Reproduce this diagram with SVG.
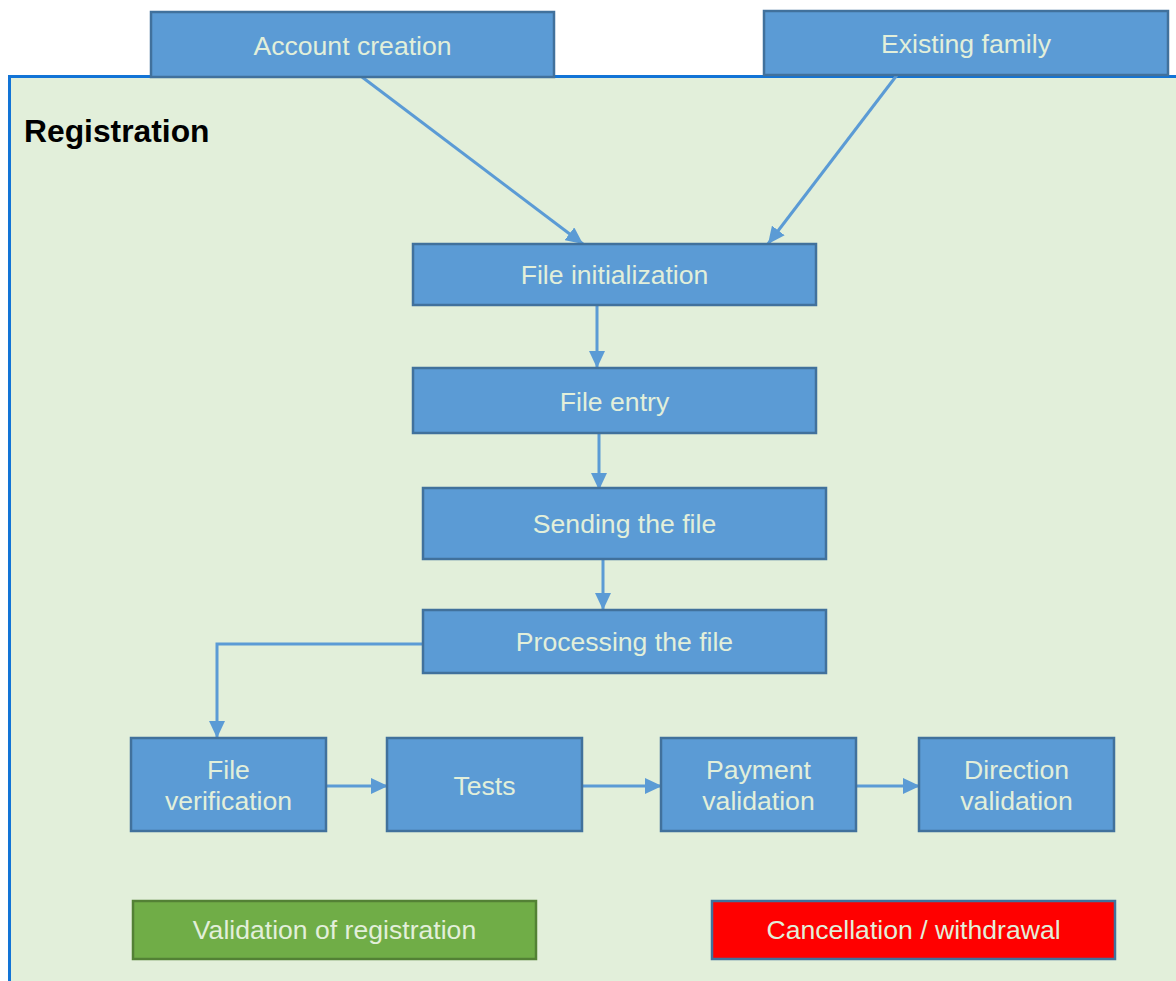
<svg xmlns="http://www.w3.org/2000/svg" width="1176" height="981" viewBox="0 0 1176 981">
<style>
.box{fill:#5B9BD5;stroke:#41719C;stroke-width:2.5}
.lbl{font-family:"Liberation Sans",Arial,sans-serif;font-size:26.6px;fill:#E2EFDA;text-anchor:middle}
.conn{fill:none;stroke:#5B9BD5;stroke-width:3}
</style>
<defs>
<marker id="ah" markerUnits="userSpaceOnUse" markerWidth="18" markerHeight="16" viewBox="0 0 18 16" refX="17" refY="8" orient="auto">
<path d="M0,0 L17,8 L0,16 Z" fill="#5B9BD5"/>
</marker>
</defs>
<rect width="1176" height="981" fill="#FFFFFF"/>
<g id="registration">
<rect x="9.5" y="76.5" width="1200" height="960" fill="#E2EFDA" stroke="#1274D6" stroke-width="3"/>
<text x="24" y="142" font-family="Liberation Sans,Arial,sans-serif" font-size="31.8" font-weight="bold" fill="#000">Registration</text>
</g>
<g id="connectors">
<line class="conn" x1="362" y1="77" x2="583" y2="244" marker-end="url(#ah)"/>
<line class="conn" x1="897" y1="75" x2="768" y2="244" marker-end="url(#ah)"/>
<line class="conn" x1="597" y1="305" x2="597" y2="368" marker-end="url(#ah)"/>
<line class="conn" x1="599" y1="433" x2="599" y2="490" marker-end="url(#ah)"/>
<line class="conn" x1="603" y1="559" x2="603" y2="610" marker-end="url(#ah)"/>
<polyline class="conn" points="423,644 217,644 217,738" marker-end="url(#ah)"/>
<line class="conn" x1="326" y1="786" x2="388" y2="786" marker-end="url(#ah)"/>
<line class="conn" x1="582" y1="786" x2="662" y2="786" marker-end="url(#ah)"/>
<line class="conn" x1="856" y1="786" x2="920" y2="786" marker-end="url(#ah)"/>
</g>
<g id="account-creation">
<rect class="box" x="151" y="12" width="403" height="65"/>
<text class="lbl" x="352.5" y="55">Account creation</text>
</g>
<g id="existing-family">
<rect class="box" x="764" y="11" width="404" height="64"/>
<text class="lbl" x="966" y="53">Existing family</text>
</g>
<g id="file-initialization">
<rect class="box" x="413" y="244" width="403" height="61"/>
<text class="lbl" x="614.5" y="284">File initialization</text>
</g>
<g id="file-entry">
<rect class="box" x="413" y="368" width="403" height="65"/>
<text class="lbl" x="614.5" y="411">File entry</text>
</g>
<g id="sending-the-file">
<rect class="box" x="423" y="488" width="403" height="71"/>
<text class="lbl" x="624.5" y="533">Sending the file</text>
</g>
<g id="processing-the-file">
<rect class="box" x="423" y="610" width="403" height="63"/>
<text class="lbl" x="624.5" y="651">Processing the file</text>
</g>
<g id="file-verification">
<rect class="box" x="131" y="738" width="195" height="93"/>
<text class="lbl" x="228.5" y="779">File</text>
<text class="lbl" x="228.5" y="810">verification</text>
</g>
<g id="tests">
<rect class="box" x="387" y="738" width="195" height="93"/>
<text class="lbl" x="484.5" y="795">Tests</text>
</g>
<g id="payment-validation">
<rect class="box" x="661" y="738" width="195" height="93"/>
<text class="lbl" x="758.5" y="779">Payment</text>
<text class="lbl" x="758.5" y="810">validation</text>
</g>
<g id="direction-validation">
<rect class="box" x="919" y="738" width="195" height="93"/>
<text class="lbl" x="1016.5" y="779">Direction</text>
<text class="lbl" x="1016.5" y="810">validation</text>
</g>
<g id="validation-of-registration">
<rect x="133" y="901" width="403" height="58" fill="#70AD47" stroke="#538135" stroke-width="2.5"/>
<text class="lbl" x="334.5" y="939">Validation of registration</text>
</g>
<g id="cancellation-withdrawal">
<rect x="712" y="901" width="403" height="58" fill="#FF0000" stroke="#41719C" stroke-width="2.5"/>
<text class="lbl" x="913.5" y="939">Cancellation / withdrawal</text>
</g>
</svg>
